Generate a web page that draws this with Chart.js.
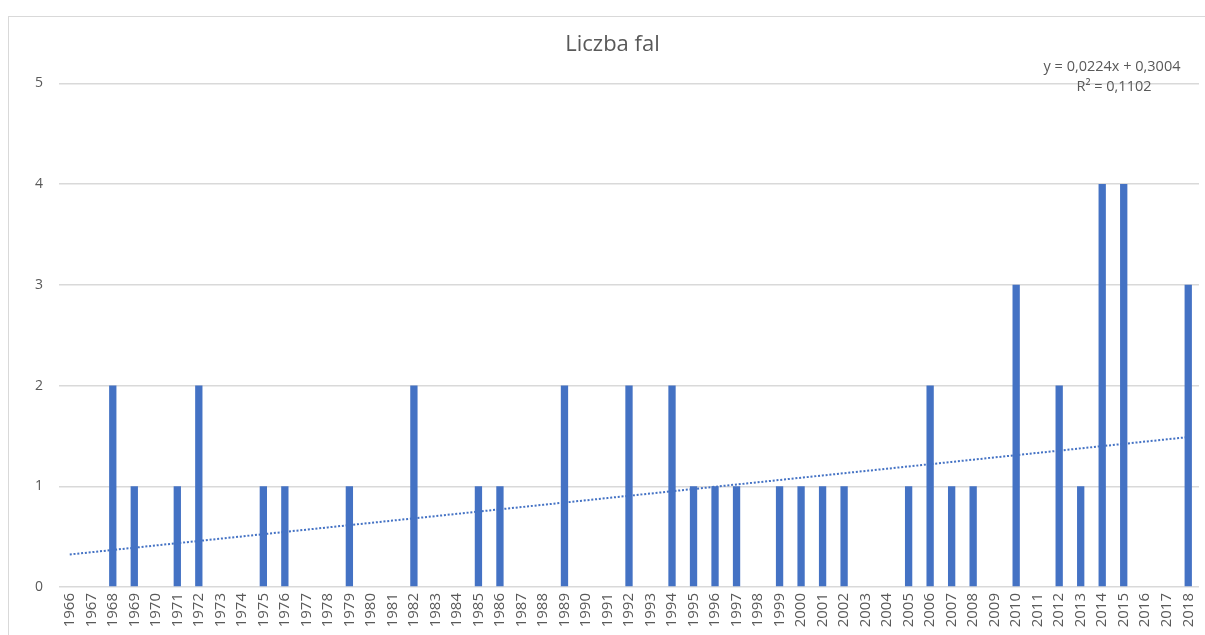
<!DOCTYPE html>
<html>
<head>
<meta charset="utf-8">
<script src="https://cdn.jsdelivr.net/npm/chart.js@4.4.1/dist/chart.umd.min.js"></script>
<style>
  html, body { margin: 0; padding: 0; background: #fff; overflow: hidden; }
  #box {
    position: absolute; left: 8px; top: 16px;
    width: 1230px; height: 620px;
    border: 1px solid #d9d9d9;
  }
</style>
</head>
<body>
<div id="box"><canvas id="chart"></canvas></div>
<script>
const years = [
  '1966','1967','1968','1969','1970','1971','1972','1973','1974','1975',
  '1976','1977','1978','1979','1980','1981','1982','1983','1984','1985',
  '1986','1987','1988','1989','1990','1991','1992','1993','1994','1995',
  '1996','1997','1998','1999','2000','2001','2002','2003','2004','2005',
  '2006','2007','2008','2009','2010','2011','2012','2013','2014','2015',
  '2016','2017','2018'
];
const waves = [
  0, 0, 2, 1, 0, 1, 2, 0, 0, 1,
  1, 0, 0, 1, 0, 0, 2, 0, 0, 1,
  1, 0, 0, 2, 0, 0, 2, 0, 2, 1,
  1, 1, 0, 1, 1, 1, 1, 0, 0, 1,
  2, 1, 1, 0, 3, 0, 2, 1, 4, 4,
  0, 0, 3
];
const yTicks = [0, 1, 2, 3, 4, 5];
const chartTitle = 'Liczba fal';

const blue = '#4472C4';
const grey = '#595959';
const font = "'Open Sans', sans-serif";

// linear trend, x = 1..n like in Excel
const n = waves.length;
let sx = 0, sy = 0, sxy = 0, sxx = 0;
waves.forEach((v, i) => {
  const x = i + 1;
  sx += x; sy += v; sxy += x * v; sxx += x * x;
});
const slope = (n * sxy - sx * sy) / (n * sxx - sx * sx);
const intercept = (sy - slope * sx) / n;
const trend = waves.map((v, i) => slope * (i + 1) + intercept);
const meanY = sy / n;
let ssTot = 0, ssRes = 0;
waves.forEach((v, i) => {
  ssTot += (v - meanY) ** 2;
  ssRes += (v - trend[i]) ** 2;
});
const r2 = 1 - ssRes / ssTot;
const fmt = v => v.toFixed(4).replace('.', ',');

const trendLabel = {
  id: 'trendLabel',
  afterDraw(chart) {
    const ctx = chart.ctx;
    const a = chart.chartArea;
    ctx.save();
    ctx.fillStyle = grey;
    ctx.font = "14.5px " + font;
    ctx.textAlign = 'center';
    ctx.textBaseline = 'middle';
    ctx.fillText('y = ' + fmt(slope) + 'x + ' + fmt(intercept), a.right - 87, a.top - 17);
    ctx.fillText('R² = ' + fmt(r2), a.right - 85, a.top + 3);
    ctx.restore();
  }
};

new Chart(document.getElementById('chart'), {
  type: 'bar',
  data: {
    labels: years,
    datasets: [
      {
        type: 'line',
        data: trend,
        borderColor: blue,
        borderWidth: 2,
        borderDash: [2, 1.8],
        borderCapStyle: 'butt',
        pointRadius: 0,
        fill: false,
        order: 0
      },
      {
        data: waves,
        backgroundColor: blue,
        categoryPercentage: 1,
        barPercentage: 0.34,
        order: 1
      }
    ]
  },
  options: {
    responsive: true,
    maintainAspectRatio: false,
    animation: false,
    layout: { padding: { right: 40, left: 17, bottom: 0 } },
    plugins: {
      legend: { display: false },
      tooltip: { enabled: false },
      title: {
        display: true,
        text: chartTitle,
        color: grey,
        font: { family: font, size: 22, weight: 'normal' },
        padding: { top: 15, bottom: 25 }
      }
    },
    scales: {
      x: {
        grid: { display: false, drawTicks: false },
        border: { display: false },
        ticks: {
          color: grey,
          font: { family: font, size: 15 },
          minRotation: 90,
          maxRotation: 90,
          autoSkip: false,
          padding: 6
        },
        afterFit(scale) { scale.height = 50; }
      },
      y: {
        min: 0,
        max: 5,
        afterBuildTicks(scale) { scale.ticks = yTicks.map(v => ({ value: v })); },
        grid: { color: '#d9d9d9', lineWidth: 1.5, drawTicks: false },
        border: { display: false },
        ticks: {
          color: grey,
          font: { family: font, size: 14 },
          padding: 16
        },
        afterFit(scale) { scale.width = 33; }
      }
    }
  },
  plugins: [trendLabel]
});
</script>
</body>
</html>
